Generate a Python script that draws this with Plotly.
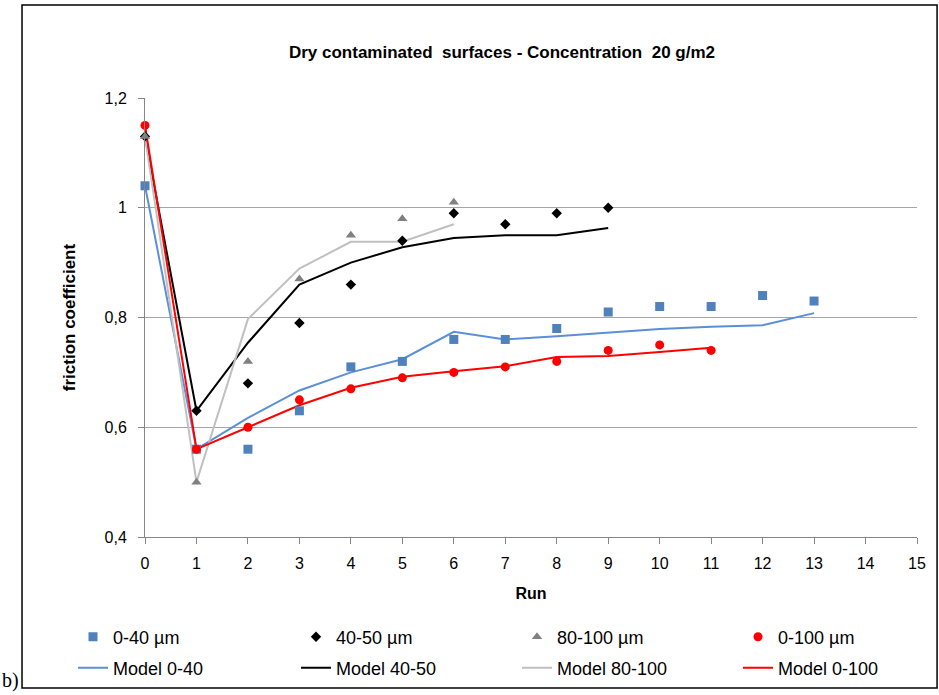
import plotly.graph_objects as go

runs = list(range(0, 16))

# Measured data
x_040 = [0, 1, 2, 3, 4, 5, 6, 7, 8, 9, 10, 11, 12, 13]
y_040 = [1.04, 0.56, 0.56, 0.63, 0.71, 0.72, 0.76, 0.76, 0.78, 0.81, 0.82, 0.82, 0.84, 0.83]

x_4050 = [0, 1, 2, 3, 4, 5, 6, 7, 8, 9]
y_4050 = [1.13, 0.63, 0.68, 0.79, 0.86, 0.94, 0.99, 0.97, 0.99, 1.00]

x_80100 = [0, 1, 2, 3, 4, 5, 6]
y_80100 = [1.13, 0.50, 0.72, 0.87, 0.95, 0.98, 1.01]

x_0100 = [0, 1, 2, 3, 4, 5, 6, 7, 8, 9, 10, 11]
y_0100 = [1.15, 0.56, 0.60, 0.65, 0.67, 0.69, 0.70, 0.71, 0.72, 0.74, 0.75, 0.74]

# Model curves
m_040 = [1.04, 0.56, 0.617, 0.667, 0.700, 0.724, 0.774, 0.760, 0.766, 0.773, 0.779, 0.783, 0.786, 0.808]
m_4050 = [1.13, 0.63, 0.754, 0.860, 0.900, 0.928, 0.945, 0.950, 0.950, 0.963]
m_80100 = [1.13, 0.50, 0.797, 0.889, 0.938, 0.938, 0.970]
m_0100 = [1.15, 0.56, 0.60, 0.64, 0.672, 0.692, 0.702, 0.711, 0.728, 0.730, 0.737, 0.745]

c_blue_pt = "#4f81bd"
c_blue_ln = "#5b8fd8"
c_gray_pt = "#808080"
c_gray_ln = "#c0c0c0"

fig = go.Figure()

# Model lines (second legend row)
fig.add_trace(go.Scatter(x=x_040, y=m_040, mode="lines", name="Model 0-40",
                         line=dict(color=c_blue_ln, width=2), legend="legend5", cliponaxis=False))
fig.add_trace(go.Scatter(x=x_4050, y=m_4050, mode="lines", name="Model 40-50",
                         line=dict(color="#000000", width=2), legend="legend6", cliponaxis=False))
fig.add_trace(go.Scatter(x=x_80100, y=m_80100, mode="lines", name="Model 80-100",
                         line=dict(color=c_gray_ln, width=2), legend="legend7", cliponaxis=False))
fig.add_trace(go.Scatter(x=x_0100, y=m_0100, mode="lines", name="Model 0-100",
                         line=dict(color="#ff0000", width=2), legend="legend8", cliponaxis=False))

# Measured points (first legend row)
fig.add_trace(go.Scatter(x=x_040, y=y_040, mode="markers", name="0-40 µm",
                         marker=dict(symbol="square", color=c_blue_pt, size=9),
                         legend="legend", cliponaxis=False))
fig.add_trace(go.Scatter(x=x_4050, y=y_4050, mode="markers", name="40-50 µm",
                         marker=dict(symbol="diamond", color="#000000", size=8),
                         legend="legend2", cliponaxis=False))
fig.add_trace(go.Scatter(x=x_80100, y=y_80100, mode="markers", name="80-100 µm",
                         marker=dict(symbol="triangle-up", color=c_gray_pt, size=9),
                         legend="legend3", cliponaxis=False))
fig.add_trace(go.Scatter(x=x_0100, y=y_0100, mode="markers", name="0-100 µm",
                         marker=dict(symbol="circle", color="#ff0000", size=9),
                         legend="legend4", cliponaxis=False))

font_family = "Liberation Sans, Arial, sans-serif"

legend_common = dict(orientation="h", xref="container", yref="container",
                     xanchor="left", yanchor="middle",
                     font=dict(size=18, family=font_family),
                     bgcolor="rgba(0,0,0,0)")

col_x = [73, 296, 517, 738]
row_y = [637, 668]
legends = {}
names = ["legend", "legend2", "legend3", "legend4", "legend5", "legend6", "legend7", "legend8"]
for i, nm in enumerate(names):
    r, c = divmod(i, 4)
    legends[nm] = dict(x=col_x[c] / 939, y=1 - row_y[r] / 695, **legend_common)

fig.update_layout(
    width=939, height=695,
    margin=dict(l=145, r=22, t=98, b=158, autoexpand=False),
    paper_bgcolor="white", plot_bgcolor="white",
    separators=", ",
    font=dict(family=font_family, size=16, color="#000000"),
    showlegend=True,
    title=dict(text="<b>Dry contaminated  surfaces - Concentration  20 g/m2</b>",
               xref="paper", x=0.4624, xanchor="center",
               yref="container", y=1 - 52 / 695, yanchor="middle",
               font=dict(size=17, family=font_family)),
    xaxis=dict(range=[0, 15], tickmode="array", tickvals=runs,
               showgrid=False, zeroline=False,
               showline=True, linecolor="#868686", linewidth=1,
               ticks="outside", ticklen=6, tickcolor="#868686",
               ticklabelstandoff=6,
               tickfont=dict(size=16),
               title=dict(text="<b>Run</b>", font=dict(size=16), standoff=16)),
    yaxis=dict(range=[0.4, 1.2], dtick=0.2, tick0=0.4,
               showgrid=True, gridcolor="#a6a6a6", gridwidth=1,
               zeroline=False,
               showline=True, linecolor="#868686", linewidth=1,
               ticks="outside", ticklen=6, tickcolor="#868686",
               ticklabelstandoff=8,
               tickfont=dict(size=16),
               title=dict(text="<b>friction coefficient</b>", font=dict(size=17), standoff=24)),
    shapes=[dict(type="rect", xref="paper", yref="paper",
                 x0=-0.1593, x1=1.026, y0=-0.344, y1=1.2118,
                 line=dict(color="#000000", width=1.5), fillcolor="rgba(0,0,0,0)", layer="below")],
    annotations=[dict(text="b)", xref="paper", yref="paper", x=-0.188, y=-0.326,
                      xanchor="left", yanchor="middle", showarrow=False,
                      font=dict(family="Liberation Serif, Times New Roman, serif", size=20))],
    **legends,
)

fig.write_html("out.html")
